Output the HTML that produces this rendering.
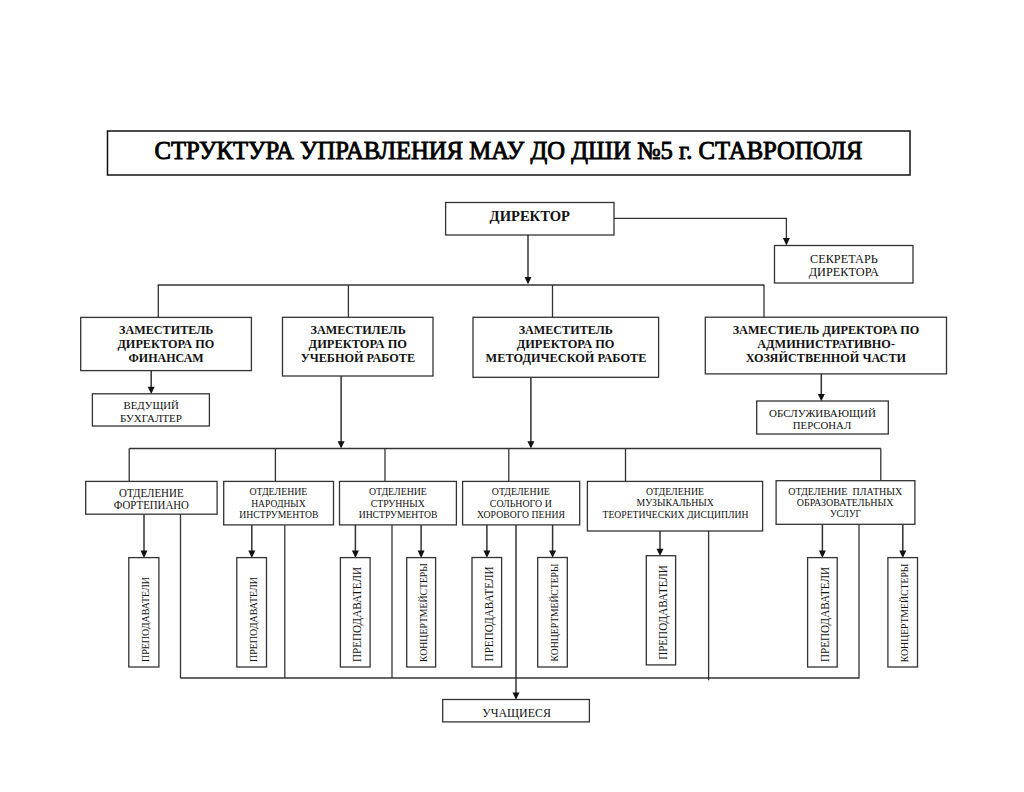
<!DOCTYPE html>
<html><head><meta charset="utf-8"><style>
html,body{margin:0;padding:0;background:#fff;width:1024px;height:792px;overflow:hidden}
svg{display:block;font-family:"Liberation Serif",serif}
</style></head><body>
<svg width="1024" height="792" viewBox="0 0 1024 792">
<rect x="107.5" y="131" width="802.5" height="44" fill="#fff" stroke="#111" stroke-width="1.5"/>
<text x="508.5" y="158.8" font-size="25" stroke="#000" stroke-width="0.9" text-anchor="middle" textLength="708.0" lengthAdjust="spacingAndGlyphs" fill="#000">СТРУКТУРА УПРАВЛЕНИЯ МАУ ДО ДШИ №5 г. СТАВРОПОЛЯ</text>
<rect x="445.6" y="202.5" width="168.4" height="32.5" fill="#fff" stroke="#333" stroke-width="1.3"/>
<text x="529.8" y="221" font-size="15.5" font-weight="bold" text-anchor="middle" textLength="80.4" lengthAdjust="spacingAndGlyphs" fill="#111">ДИРЕКТОР</text>
<polyline points="614,218.3 786.4,218.3 786.4,239" fill="none" stroke="#333" stroke-width="1.3" stroke-linejoin="miter"/>
<polygon points="782.9,238 789.9,238 786.4,245.5" fill="#111"/>
<rect x="774.5" y="245.5" width="138.5" height="37.5" fill="#fff" stroke="#333" stroke-width="1.3"/>
<text x="843.9" y="262.5" font-size="12" text-anchor="middle" textLength="67.7" lengthAdjust="spacingAndGlyphs" fill="#111">СЕКРЕТАРЬ</text>
<text x="843.8" y="276" font-size="12" text-anchor="middle" textLength="70.1" lengthAdjust="spacingAndGlyphs" fill="#111">ДИРЕКТОРА</text>
<line x1="528" y1="235" x2="528" y2="279" stroke="#333" stroke-width="1.5"/>
<polygon points="524.5,277 531.5,277 528,284.3" fill="#111"/>
<line x1="157.7" y1="285" x2="764.3" y2="285" stroke="#333" stroke-width="1.3"/>
<line x1="158.3" y1="285" x2="158.3" y2="317.4" stroke="#333" stroke-width="1.3"/>
<line x1="348.4" y1="285" x2="348.4" y2="317.3" stroke="#333" stroke-width="1.3"/>
<line x1="552.5" y1="285" x2="552.5" y2="317.3" stroke="#333" stroke-width="1.3"/>
<line x1="764" y1="285" x2="764" y2="317.2" stroke="#333" stroke-width="1.3"/>
<rect x="80.7" y="317.4" width="170.7" height="53.2" fill="#fff" stroke="#333" stroke-width="1.3"/>
<text x="166.2" y="334" font-size="12.3" font-weight="bold" text-anchor="middle" textLength="94.4" lengthAdjust="spacingAndGlyphs" fill="#111">ЗАМЕСТИТЕЛЬ</text>
<text x="165.9" y="347.7" font-size="12.3" font-weight="bold" text-anchor="middle" textLength="96.9" lengthAdjust="spacingAndGlyphs" fill="#111">ДИРЕКТОРА ПО</text>
<text x="166.1" y="361.5" font-size="12.3" font-weight="bold" text-anchor="middle" textLength="75.1" lengthAdjust="spacingAndGlyphs" fill="#111">ФИНАНСАМ</text>
<rect x="282.5" y="317.3" width="150.5" height="58.7" fill="#fff" stroke="#333" stroke-width="1.3"/>
<text x="358.1" y="333.6" font-size="12.3" font-weight="bold" text-anchor="middle" textLength="95.2" lengthAdjust="spacingAndGlyphs" fill="#111">ЗАМЕСТИЛЕЛЬ</text>
<text x="357.8" y="347.7" font-size="12.3" font-weight="bold" text-anchor="middle" textLength="98.4" lengthAdjust="spacingAndGlyphs" fill="#111">ДИРЕКТОРА ПО</text>
<text x="357.9" y="361.6" font-size="12.3" font-weight="bold" text-anchor="middle" textLength="114.3" lengthAdjust="spacingAndGlyphs" fill="#111">УЧЕБНОЙ РАБОТЕ</text>
<rect x="473" y="317.3" width="185.6" height="60.0" fill="#fff" stroke="#333" stroke-width="1.3"/>
<text x="565.7" y="333.6" font-size="12.3" font-weight="bold" text-anchor="middle" textLength="94.1" lengthAdjust="spacingAndGlyphs" fill="#111">ЗАМЕСТИТЕЛЬ</text>
<text x="565.6" y="347.7" font-size="12.3" font-weight="bold" text-anchor="middle" textLength="97.7" lengthAdjust="spacingAndGlyphs" fill="#111">ДИРЕКТОРА ПО</text>
<text x="566.0" y="361.8" font-size="12.3" font-weight="bold" text-anchor="middle" textLength="160.9" lengthAdjust="spacingAndGlyphs" fill="#111">МЕТОДИЧЕСКОЙ РАБОТЕ</text>
<rect x="705.3" y="317.2" width="241.2" height="56.7" fill="#fff" stroke="#333" stroke-width="1.3"/>
<text x="826.0" y="333.5" font-size="12.3" font-weight="bold" text-anchor="middle" textLength="186.7" lengthAdjust="spacingAndGlyphs" fill="#111">ЗАМЕСТИЕЛЬ ДИРЕКТОРА ПО</text>
<text x="826.1" y="347.5" font-size="12.3" font-weight="bold" text-anchor="middle" textLength="137.8" lengthAdjust="spacingAndGlyphs" fill="#111">АДМИНИСТРАТИВНО-</text>
<text x="826.0" y="361.5" font-size="12.3" font-weight="bold" text-anchor="middle" textLength="160.3" lengthAdjust="spacingAndGlyphs" fill="#111">ХОЗЯЙСТВЕННОЙ ЧАСТИ</text>
<line x1="151.2" y1="370.6" x2="151.2" y2="388.8" stroke="#333" stroke-width="1.5"/>
<polygon points="147.7,386.8 154.7,386.8 151.2,394.1" fill="#111"/>
<rect x="92.4" y="393.8" width="117.0" height="32.2" fill="#fff" stroke="#333" stroke-width="1.3"/>
<text x="151.2" y="409.3" font-size="10.8" text-anchor="middle" textLength="55.5" lengthAdjust="spacingAndGlyphs" fill="#111">ВЕДУЩИЙ</text>
<text x="151.0" y="422" font-size="10.8" text-anchor="middle" textLength="62.0" lengthAdjust="spacingAndGlyphs" fill="#111">БУХГАЛТЕР</text>
<line x1="821.3" y1="373.9" x2="821.3" y2="396" stroke="#333" stroke-width="1.5"/>
<polygon points="817.8,394 824.8,394 821.3,401.3" fill="#111"/>
<rect x="756.7" y="401" width="131.6" height="33" fill="#fff" stroke="#333" stroke-width="1.3"/>
<text x="822.5" y="416.6" font-size="10.8" text-anchor="middle" textLength="106.9" lengthAdjust="spacingAndGlyphs" fill="#111">ОБСЛУЖИВАЮЩИЙ</text>
<text x="822.0" y="428.7" font-size="10.8" text-anchor="middle" textLength="58.5" lengthAdjust="spacingAndGlyphs" fill="#111">ПЕРСОНАЛ</text>
<line x1="341.1" y1="376" x2="341.1" y2="443.3" stroke="#333" stroke-width="1.5"/>
<polygon points="337.6,441.3 344.6,441.3 341.1,448.6" fill="#111"/>
<line x1="530.9" y1="377.3" x2="530.9" y2="443.3" stroke="#333" stroke-width="1.5"/>
<polygon points="527.4,441.3 534.4,441.3 530.9,448.6" fill="#111"/>
<line x1="129.2" y1="448.5" x2="880.8" y2="448.5" stroke="#333" stroke-width="1.3"/>
<line x1="129.2" y1="448.5" x2="129.2" y2="481.4" stroke="#333" stroke-width="1.3"/>
<line x1="275.4" y1="448.5" x2="275.4" y2="481.4" stroke="#333" stroke-width="1.3"/>
<line x1="385" y1="448.5" x2="385" y2="481.4" stroke="#333" stroke-width="1.3"/>
<line x1="508.8" y1="448.5" x2="508.8" y2="481.4" stroke="#333" stroke-width="1.3"/>
<line x1="625.5" y1="448.5" x2="625.5" y2="481.4" stroke="#333" stroke-width="1.3"/>
<line x1="880.8" y1="448.5" x2="880.8" y2="481.4" stroke="#333" stroke-width="1.3"/>
<rect x="85.7" y="481.4" width="131.4" height="32.8" fill="#fff" stroke="#333" stroke-width="1.3"/>
<text x="151.3" y="497" font-size="11.8" text-anchor="middle" textLength="64.6" lengthAdjust="spacingAndGlyphs" fill="#111">ОТДЕЛЕНИЕ</text>
<text x="151.4" y="509.2" font-size="11.8" text-anchor="middle" textLength="75.1" lengthAdjust="spacingAndGlyphs" fill="#111">ФОРТЕПИАНО</text>
<rect x="223.7" y="481.4" width="109.8" height="43.5" fill="#fff" stroke="#333" stroke-width="1.3"/>
<text x="278.4" y="495" font-size="9.8" text-anchor="middle" textLength="57.9" lengthAdjust="spacingAndGlyphs" fill="#111">ОТДЕЛЕНИЕ</text>
<text x="278.4" y="506.5" font-size="9.8" text-anchor="middle" textLength="54.5" lengthAdjust="spacingAndGlyphs" fill="#111">НАРОДНЫХ</text>
<text x="278.9" y="517.5" font-size="9.8" text-anchor="middle" textLength="79.1" lengthAdjust="spacingAndGlyphs" fill="#111">ИНСТРУМЕНТОВ</text>
<rect x="339.5" y="481.4" width="116.9" height="43.5" fill="#fff" stroke="#333" stroke-width="1.3"/>
<text x="397.9" y="495" font-size="9.8" text-anchor="middle" textLength="57.9" lengthAdjust="spacingAndGlyphs" fill="#111">ОТДЕЛЕНИЕ</text>
<text x="397.8" y="506.5" font-size="9.8" text-anchor="middle" textLength="54.2" lengthAdjust="spacingAndGlyphs" fill="#111">СТРУННЫХ</text>
<text x="398.1" y="517.5" font-size="9.8" text-anchor="middle" textLength="78.8" lengthAdjust="spacingAndGlyphs" fill="#111">ИНСТРУМЕНТОВ</text>
<rect x="462.6" y="481.4" width="117.1" height="43.5" fill="#fff" stroke="#333" stroke-width="1.3"/>
<text x="520.8" y="495" font-size="9.8" text-anchor="middle" textLength="57.9" lengthAdjust="spacingAndGlyphs" fill="#111">ОТДЕЛЕНИЕ</text>
<text x="520.8" y="506.5" font-size="9.8" text-anchor="middle" textLength="61.9" lengthAdjust="spacingAndGlyphs" fill="#111">СОЛЬНОГО И</text>
<text x="521.0" y="517.5" font-size="9.8" text-anchor="middle" textLength="87.8" lengthAdjust="spacingAndGlyphs" fill="#111">ХОРОВОГО ПЕНИЯ</text>
<rect x="587.4" y="481.4" width="175.2" height="49.6" fill="#fff" stroke="#333" stroke-width="1.3"/>
<text x="675.0" y="495" font-size="9.8" text-anchor="middle" textLength="58.0" lengthAdjust="spacingAndGlyphs" fill="#111">ОТДЕЛЕНИЕ</text>
<text x="675.2" y="506.4" font-size="9.8" text-anchor="middle" textLength="77.2" lengthAdjust="spacingAndGlyphs" fill="#111">МУЗЫКАЛЬНЫХ</text>
<text x="675.5" y="517.7" font-size="9.8" text-anchor="middle" textLength="145.9" lengthAdjust="spacingAndGlyphs" fill="#111">ТЕОРЕТИЧЕСКИХ ДИСЦИПЛИН</text>
<rect x="776.1" y="480.7" width="138.8" height="43.6" fill="#fff" stroke="#333" stroke-width="1.3"/>
<text x="845.3" y="494.8" font-size="9.8" text-anchor="middle" textLength="114.2" lengthAdjust="spacingAndGlyphs" fill="#111">ОТДЕЛЕНИЕ&#160;&#160;ПЛАТНЫХ</text>
<text x="845.2" y="505.9" font-size="9.8" text-anchor="middle" textLength="96.7" lengthAdjust="spacingAndGlyphs" fill="#111">ОБРАЗОВАТЕЛЬНЫХ</text>
<text x="845.5" y="517.2" font-size="9.8" text-anchor="middle" textLength="31.0" lengthAdjust="spacingAndGlyphs" fill="#111">УСЛУГ</text>
<line x1="180.5" y1="514.2" x2="180.5" y2="678.2" stroke="#333" stroke-width="1.3"/>
<line x1="284.8" y1="524.9" x2="284.8" y2="678" stroke="#333" stroke-width="1.3"/>
<line x1="392" y1="524.9" x2="392" y2="678" stroke="#333" stroke-width="1.3"/>
<line x1="708.6" y1="531" x2="708.6" y2="680.3" stroke="#333" stroke-width="1.3"/>
<polyline points="180.5,678 859,678 859,524.3" fill="none" stroke="#333" stroke-width="1.3" stroke-linejoin="miter"/>
<line x1="144" y1="514.2" x2="144" y2="552.6" stroke="#333" stroke-width="1.5"/>
<polygon points="140.5,550.6 147.5,550.6 144,557.9" fill="#111"/>
<rect x="128.8" y="557.6" width="30.1" height="109.4" fill="#fff" stroke="#333" stroke-width="1.3"/>
<text transform="translate(149.1,619.5) rotate(-90)" x="0" y="0" font-size="11" text-anchor="middle" textLength="85.0" lengthAdjust="spacingAndGlyphs" fill="#111">ПРЕПОДАВАТЕЛИ</text>
<line x1="251.8" y1="524.9" x2="251.8" y2="552.6" stroke="#333" stroke-width="1.5"/>
<polygon points="248.3,550.6 255.3,550.6 251.8,557.9" fill="#111"/>
<rect x="236.8" y="557.6" width="29.7" height="109.4" fill="#fff" stroke="#333" stroke-width="1.3"/>
<text transform="translate(256.7,619.5) rotate(-90)" x="0" y="0" font-size="11" text-anchor="middle" textLength="85.0" lengthAdjust="spacingAndGlyphs" fill="#111">ПРЕПОДАВАТЕЛИ</text>
<line x1="355.4" y1="524.9" x2="355.4" y2="552.6" stroke="#333" stroke-width="1.5"/>
<polygon points="351.9,550.6 358.9,550.6 355.4,557.9" fill="#111"/>
<rect x="340.4" y="557.6" width="29.7" height="109.4" fill="#fff" stroke="#333" stroke-width="1.3"/>
<text transform="translate(361.2,614.5) rotate(-90)" x="0" y="0" font-size="12.2" text-anchor="middle" textLength="95.0" lengthAdjust="spacingAndGlyphs" fill="#111">ПРЕПОДАВАТЕЛИ</text>
<line x1="421.1" y1="524.9" x2="421.1" y2="552.6" stroke="#333" stroke-width="1.5"/>
<polygon points="417.6,550.6 424.6,550.6 421.1,557.9" fill="#111"/>
<rect x="406.7" y="557.6" width="28.9" height="109.4" fill="#fff" stroke="#333" stroke-width="1.3"/>
<text transform="translate(426.5,612.6) rotate(-90)" x="0" y="0" font-size="11" text-anchor="middle" textLength="98.8" lengthAdjust="spacingAndGlyphs" fill="#111">КОНЦЕРТМЕЙСТЕРЫ</text>
<line x1="486.9" y1="524.9" x2="486.9" y2="552.5" stroke="#333" stroke-width="1.5"/>
<polygon points="483.4,550.5 490.4,550.5 486.9,557.8" fill="#111"/>
<rect x="472" y="557.5" width="29.6" height="109.5" fill="#fff" stroke="#333" stroke-width="1.3"/>
<text transform="translate(493,613.9) rotate(-90)" x="0" y="0" font-size="12.2" text-anchor="middle" textLength="95.0" lengthAdjust="spacingAndGlyphs" fill="#111">ПРЕПОДАВАТЕЛИ</text>
<line x1="552.6" y1="524.9" x2="552.6" y2="552.5" stroke="#333" stroke-width="1.5"/>
<polygon points="549.1,550.5 556.1,550.5 552.6,557.8" fill="#111"/>
<rect x="537.7" y="557.5" width="29.6" height="109.5" fill="#fff" stroke="#333" stroke-width="1.3"/>
<text transform="translate(558.2,612.5) rotate(-90)" x="0" y="0" font-size="11" text-anchor="middle" textLength="97.8" lengthAdjust="spacingAndGlyphs" fill="#111">КОНЦЕРТМЕЙСТЕРЫ</text>
<line x1="660" y1="531" x2="660" y2="550.7" stroke="#333" stroke-width="1.5"/>
<polygon points="656.5,548.7 663.5,548.7 660,556.0" fill="#111"/>
<rect x="646.3" y="555.7" width="29.3" height="109.2" fill="#fff" stroke="#333" stroke-width="1.3"/>
<text transform="translate(666.9,612.5) rotate(-90)" x="0" y="0" font-size="12.2" text-anchor="middle" textLength="94.7" lengthAdjust="spacingAndGlyphs" fill="#111">ПРЕПОДАВАТЕЛИ</text>
<line x1="822.4" y1="524.3" x2="822.4" y2="552.6" stroke="#333" stroke-width="1.5"/>
<polygon points="818.9,550.6 825.9,550.6 822.4,557.9" fill="#111"/>
<rect x="807.6" y="557.6" width="29.6" height="109.4" fill="#fff" stroke="#333" stroke-width="1.3"/>
<text transform="translate(828.8,614.5) rotate(-90)" x="0" y="0" font-size="12.2" text-anchor="middle" textLength="95.1" lengthAdjust="spacingAndGlyphs" fill="#111">ПРЕПОДАВАТЕЛИ</text>
<line x1="902.8" y1="524.3" x2="902.8" y2="552.6" stroke="#333" stroke-width="1.5"/>
<polygon points="899.3,550.6 906.3,550.6 902.8,557.9" fill="#111"/>
<rect x="887.9" y="557.6" width="29.6" height="109.4" fill="#fff" stroke="#333" stroke-width="1.3"/>
<text transform="translate(908.4,612.9) rotate(-90)" x="0" y="0" font-size="11" text-anchor="middle" textLength="98.5" lengthAdjust="spacingAndGlyphs" fill="#111">КОНЦЕРТМЕЙСТЕРЫ</text>
<line x1="516" y1="524.9" x2="516" y2="694.5" stroke="#333" stroke-width="1.5"/>
<polygon points="512.5,692.5 519.5,692.5 516,699.8" fill="#111"/>
<rect x="442.7" y="699.5" width="146.7" height="22.4" fill="#fff" stroke="#333" stroke-width="1.3"/>
<text x="516.6" y="716.6" font-size="13" text-anchor="middle" textLength="68.8" lengthAdjust="spacingAndGlyphs" fill="#111">УЧАЩИЕСЯ</text>
</svg>
</body></html>
